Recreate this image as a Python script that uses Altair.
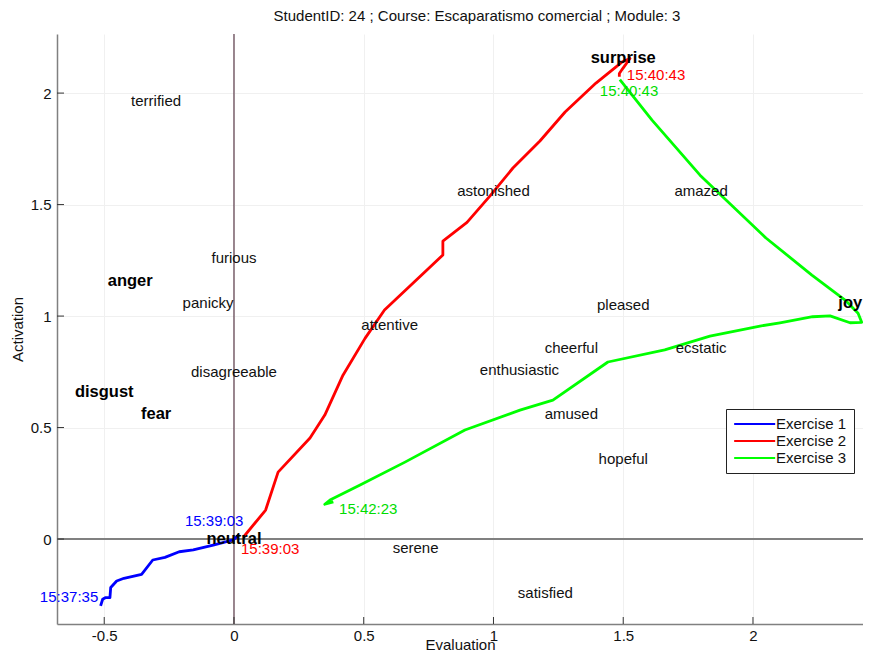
import altair as alt
import pandas as pd

# --- data -------------------------------------------------------------
ex1_x = [-0.514, -0.506, -0.496, -0.478, -0.475, -0.452, -0.424, -0.356, -0.313,
         -0.266, -0.211, -0.157, -0.080, -0.003, 0.020]
ex1_y = [-0.300, -0.270, -0.263, -0.263, -0.217, -0.188, -0.176, -0.158, -0.094,
         -0.082, -0.057, -0.049, -0.027, -0.004, 0.021]

ex2_x = [0.036, 0.122, 0.170, 0.293, 0.350, 0.420, 0.505, 0.580, 0.805, 0.805,
         0.898, 0.986, 1.075, 1.179, 1.276, 1.395, 1.495, 1.526, 1.498, 1.485, 1.485]
ex2_y = [0.008, 0.130, 0.300, 0.453, 0.556, 0.735, 0.900, 1.027, 1.274, 1.336,
         1.420, 1.538, 1.664, 1.785, 1.915, 2.045, 2.139, 2.155, 2.110, 2.088, 2.073]

ex3_x = [1.487, 1.611, 1.796, 2.050, 2.227, 2.355, 2.405, 2.419, 2.374, 2.297,
         2.230, 2.104, 2.027, 1.834, 1.660, 1.441, 1.229, 1.102, 0.890, 0.659,
         0.486, 0.370, 0.350, 0.383]
ex3_y = [2.060, 1.879, 1.632, 1.350, 1.184, 1.072, 1.013, 0.972, 0.970, 1.001,
         0.997, 0.970, 0.955, 0.910, 0.848, 0.794, 0.623, 0.578, 0.489, 0.345,
         0.242, 0.175, 0.156, 0.167]

emo_words = ["terrified", "furious", "anger", "panicky", "disagreeable", "disgust",
             "fear", "neutral", "serene", "satisfied", "attentive", "astonished",
             "surprise", "amazed", "pleased", "joy", "cheerful", "ecstatic",
             "enthusiastic", "amused", "hopeful"]
emo_x = [-0.30, 0.00, -0.40, -0.10, 0.00, -0.50, -0.30, 0.00, 0.70, 1.20, 0.60,
         1.00, 1.50, 1.80, 1.50, 2.375, 1.30, 1.80, 1.10, 1.30, 1.50]
emo_y = [1.964, 1.260, 1.157, 1.058, 0.749, 0.659, 0.560, 0.000, -0.040, -0.240,
         0.960, 1.560, 2.157, 1.560, 1.050, 1.058, 0.857, 0.857, 0.758, 0.560, 0.359]
emo_bold = ["anger", "disgust", "fear", "neutral", "surprise", "joy"]

ts_text = ["15:39:03", "15:37:35", "15:39:03", "15:40:43", "15:40:43", "15:42:23"]
ts_x = [-0.189, -0.748, 0.027, 1.514, 1.410, 0.405]
ts_y = [0.081, -0.260, -0.045, 2.081, 2.009, 0.135]
ts_col = ["#0000ff", "#0000ff", "#ff0000", "#ff0000", "#00dd00", "#00dd00"]

x_ticks = [-0.5, 0, 0.5, 1, 1.5, 2]
y_ticks = [0, 0.5, 1, 1.5, 2]

series = ["Exercise 1", "Exercise 2", "Exercise 3"]
series_colors = ["#0000ff", "#ff0000", "#00ff00"]

# --- tables -----------------------------------------------------------
rows = []
for name, xs_, ys_ in zip(series, [ex1_x, ex2_x, ex3_x], [ex1_y, ex2_y, ex3_y]):
    for i, (a, b) in enumerate(zip(xs_, ys_)):
        rows.append({"series": name, "x": a, "y": b, "ord": i})
traj = pd.DataFrame(rows)

emo = pd.DataFrame({"word": emo_words, "x": emo_x, "y": emo_y})
emo["bold"] = emo["word"].isin(emo_bold)
ts = pd.DataFrame({"t": ts_text, "x": ts_x, "y": ts_y, "c": ts_col})

W, H = 806, 590
FONT = "Liberation Sans"
FS = 15
xs = alt.Scale(domain=[-0.682, 2.424], nice=False, zero=False)
ys = alt.Scale(domain=[-0.381, 2.265], nice=False, zero=False)

base_x = alt.X("x:Q", scale=xs, title="Evaluation",
               axis=alt.Axis(values=x_ticks, grid=True, gridColor="#f0f0f0",
                             ticks=False, domainColor="#808080", domainWidth=1.5,
                             labelFontSize=FS, labelPadding=4, labelColor="#111",
                             labelExpr="'' + datum.value",
                             titleFontSize=FS, titleFontWeight="normal",
                             titleY=20, titleBaseline="middle",
                             titleColor="#111", labelFont=FONT,
                             titleFont=FONT))
base_y = alt.Y("y:Q", scale=ys, title="Activation",
               axis=alt.Axis(values=y_ticks, grid=True, gridColor="#f0f0f0",
                             ticks=False, domainColor="#808080", domainWidth=1.5,
                             labelFontSize=FS, labelPadding=6, labelColor="#111",
                             labelExpr="'' + datum.value",
                             titleFontSize=FS, titleFontWeight="normal",
                             titlePadding=5, titleColor="#111", labelFont=FONT,
                             titleFont=FONT))

zero_v = alt.Chart(pd.DataFrame({"x": [0]})).mark_rule(
    color="#5a3a48", strokeWidth=1.2).encode(x=alt.X("x:Q", scale=xs))
zero_h = alt.Chart(pd.DataFrame({"y": [0]})).mark_rule(
    color="#808080", strokeWidth=2).encode(y=alt.Y("y:Q", scale=ys))

xt = alt.Chart(pd.DataFrame({"x": x_ticks})).mark_rule(
    color="#333", strokeWidth=1).encode(x=alt.X("x:Q", scale=xs),
                                         y=alt.value(H), y2=alt.value(H - 7))
yt = alt.Chart(pd.DataFrame({"y": y_ticks})).mark_rule(
    color="#333", strokeWidth=1).encode(y=alt.Y("y:Q", scale=ys),
                                         x=alt.value(0), x2=alt.value(7))

lines = alt.Chart(traj).mark_line(strokeWidth=2.8, strokeJoin="round").encode(
    x=base_x, y=base_y,
    color=alt.Color("series:N",
                    scale=alt.Scale(domain=series, range=series_colors),
                    legend=alt.Legend(title=None, orient="none", legendX=669,
                                      legendY=375, symbolType="M-1,0H5",
                                      symbolSize=187, symbolStrokeWidth=2,
                                      labelFontSize=FS, labelFont=FONT,
                                      labelColor="#111", fillColor="white",
                                      strokeColor="#222", padding=7,
                                      rowPadding=1, labelOffset=27,
                                      cornerRadius=0)),
    order="ord:Q")

emo_norm = alt.Chart(emo).transform_filter("!datum.bold").mark_text(
    fontSize=FS, font=FONT, color="#111", align="center", baseline="middle"
).encode(x=alt.X("x:Q", scale=xs), y=alt.Y("y:Q", scale=ys), text="word:N")
emo_b = alt.Chart(emo).transform_filter("datum.bold").mark_text(
    fontSize=16.5, font=FONT, fontWeight="bold", color="#000", align="center",
    baseline="middle"
).encode(x=alt.X("x:Q", scale=xs), y=alt.Y("y:Q", scale=ys), text="word:N")

ts_layer = alt.Chart(ts).mark_text(
    fontSize=FS, font=FONT, align="left", baseline="middle"
).encode(x=alt.X("x:Q", scale=xs), y=alt.Y("y:Q", scale=ys), text="t:N",
         color=alt.Color("c:N", scale=None))

chart = alt.layer(zero_v, zero_h, xt, yt, lines, emo_norm, emo_b, ts_layer).properties(
    width=W, height=H,
    title=alt.TitleParams("StudentID: 24 ; Course: Escaparatismo comercial ; Module: 3",
                          anchor="middle", dx=17, offset=9, fontSize=FS,
                          fontWeight="normal", font=FONT, color="#111"),
    autosize=alt.AutoSizeParams(type="none"),
    padding={"left": 49, "top": 26, "right": 0, "bottom": 28},
).configure_view(stroke=None)

chart.save("out.html", embed_options={"renderer": "svg", "actions": False})
